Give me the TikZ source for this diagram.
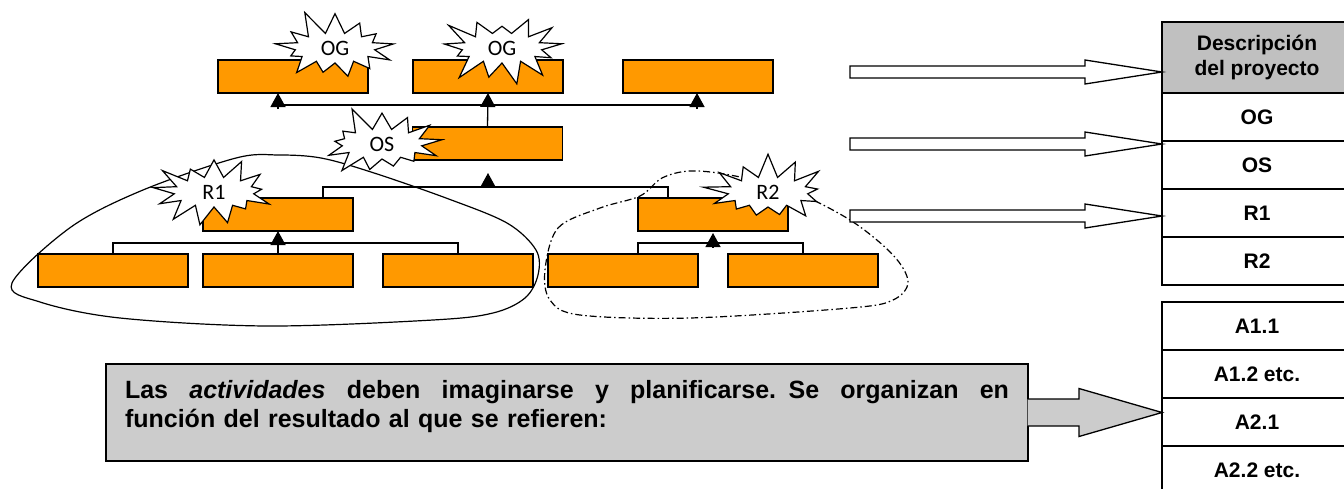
\documentclass[tikz,border=0pt]{standalone}
\usepackage{fontspec}
\setmainfont{Liberation Sans}
\newfontfamily\burstfont{Carlito}
\usetikzlibrary{arrows.meta, positioning, shapes.symbols, calc}

\definecolor{boxorange}{HTML}{FF9900}
\definecolor{notegray}{HTML}{CCCCCC}
\definecolor{headgray}{HTML}{C0C0C0}

\tikzset{
  orgbox/.style={draw, fill=boxorange, line width=1.3pt, minimum width=150pt,
    minimum height=33pt, inner sep=0pt, outer sep=0pt},
  burst/.style={starburst, draw, fill=white, line width=1.2pt, starburst points=13,
    starburst point height=26pt, minimum width=132pt, minimum height=82pt,
    inner sep=0pt, font=\burstfont\fontsize{22}{24}\selectfont},
  link/.style={line width=1.3pt},
  tri/.style={line width=1.3pt, -{Triangle[length=14pt, width=15pt]}},
  cell/.style={draw, line width=1.3pt, minimum width=190pt, minimum height=48pt,
    inner sep=0pt, outer sep=0pt, align=center, font=\bfseries\fontsize{21}{25}\selectfont},
  blockarrow/.style n args={4}{line width=1.3pt, to path={
      ($(\tikztostart)+(0,#1)$) -- ($(\tikztotarget)+(-#3,#1)$)
      -- ($(\tikztotarget)+(-#3,#2)$) -- (\tikztotarget)
      -- ($(\tikztotarget)+(-#3,-#2)$) -- ($(\tikztotarget)+(-#3,-#1)$)
      -- ($(\tikztostart)+(0,-#1)$) #4}},
}

\begin{document}
\begin{tikzpicture}[x=1pt, y=-1pt]
    \useasboundingbox (0,0) rectangle (1344,488);

    % groups
    \draw[line width=1.2pt] plot[smooth cycle, tension=0.55] coordinates {(12,283) (71,227)
        (143,190) (236,158) (279,155) (321,158) (371,172) (446,198) (507,223) (536,250)
        (538,275) (525,298) (493,313) (433,320) (267,326) (120,318) (40,302)};
    \draw[line width=1.2pt, dash pattern=on 7pt off 3pt on 1.5pt off 3pt]
        plot[smooth cycle, tension=0.55] coordinates {(545,270) (558,228) (600,208)
        (640,196) (662,178) (690,171) (730,175) (790,190) (850,220) (893,255) (908,282)
        (893,300) (850,308) (690,318) (580,315) (550,300)};

    % tree
    \node (og1) [orgbox] at (293,76.5) {};
    \node (og2) [orgbox, right=45pt of og1] {};
    \node (og3) [orgbox, right=60pt of og2] {};
    \node (os) [orgbox] at (487.5,143.5) {};
    \node (r1) [orgbox] at (278,214.5) {};
    \node (r2) [orgbox] at (713,214.5) {};
    \node (a11) [orgbox] at (113,270.5) {};
    \node (a12) [orgbox, right=15pt of a11] {};
    \node (a13) [orgbox, right=30pt of a12] {};
    \node (a21) [orgbox, right=15pt of a13] {};
    \node (a22) [orgbox, right=30pt of a21] {};

    \coordinate (busAl) at (278,105);
    \coordinate (busAr) at (697,105);
    \coordinate (busB) at (488,187);
    \coordinate (busC) at (278,243);
    \coordinate (busD) at (713,243);

    \draw[link] (busAl) -- (busAr);
    \draw[tri] (os.north) -- (og2.south);
    \draw[tri] ([yshift=-4pt]busAl) -- (busAl |- og1.south);
    \draw[tri] ([yshift=-4pt]busAr) -- (busAr |- og3.south);

    \draw[link] ([xshift=45pt]r1.north) |- (busB) -| ([xshift=-45pt]r2.north);
    \draw[tri] (busB) -- ++(0,-14);

    \draw[link] (a11.north) |- (busC) -| (a13.north);
    \draw[tri] (a12.north) -- (r1.south);
    \draw[link] ([xshift=15pt]a21.north) |- (busD) -| (a22.north);
    \draw[tri] ([yshift=-4pt]busD) -- ([yshift=-2pt]r2.south);

    \node (bOG1) [burst, random starburst=11] at (335,48) {OG};
    \node (bOG2) [burst, random starburst=23] at (502,48) {OG};
    \node (bOS) [burst, random starburst=5] at (382,144) {OS};
    \node (bR1) [burst, random starburst=41] at (214,192) {R1};
    \node (bR2) [burst, random starburst=17] at (768,192) {R2};

    % table
    \node (cHead) [cell, fill=headgray, minimum height=71pt] at (1257,57.5) {Descripción\\del proyecto};
    \node (cOG) [cell, below=0pt of cHead] {OG};
    \node (cOS) [cell, below=0pt of cOG] {OS};
    \node (cR1) [cell, below=0pt of cOS] {R1};
    \node (cR2) [cell, below=0pt of cR1] {R2};
    \node (cA11) [cell] at (1257,326) {A1.1};
    \node (cA12) [cell, below=0pt of cA11] {A1.2 etc.};
    \node (cA21) [cell, below=0pt of cA12] {A2.1};
    \node (cA22) [cell, below=0pt of cA21] {A2.2 etc.};

    \coordinate (s1) at (850,72);
    \coordinate (s2) at (850,144);
    \coordinate (s3) at (850,216);
    \coordinate (t1) at (s1 -| cHead.west);
    \coordinate (t2) at (s2 -| cHead.west);
    \coordinate (t3) at (s3 -| cHead.west);
    \draw[fill=white, blockarrow={6pt}{12pt}{77pt}{-- cycle}] (s1) to (t1);
    \draw[fill=white, blockarrow={6pt}{12pt}{77pt}{-- cycle}] (s2) to (t2);
    \draw[fill=white, blockarrow={6pt}{12pt}{77pt}{-- cycle}] (s3) to (t3);

    % note
    \node (note) [draw, fill=notegray, line width=1.3pt, minimum width=922pt, minimum height=97pt,
        text width=884pt, align=left, inner sep=0pt, font=\bfseries\fontsize{25}{29}\selectfont]
        at (567,412.5) {\makebox[884pt][s]{\spaceskip=.278em plus 3em Las \textit{actividades} deben
        imaginarse y planificarse. Se organizan en}\\
        función del resultado al que se refieren:\\[-12pt]\mbox{}};
    \coordinate (n0) at ([xshift=-1pt]note.east);
    \coordinate (n1) at (n0 -| cA21.west);
    \draw[fill=notegray, blockarrow={13.5pt}{24pt}{83pt}{}] (n0) to (n1);
\end{tikzpicture}
\end{document}
